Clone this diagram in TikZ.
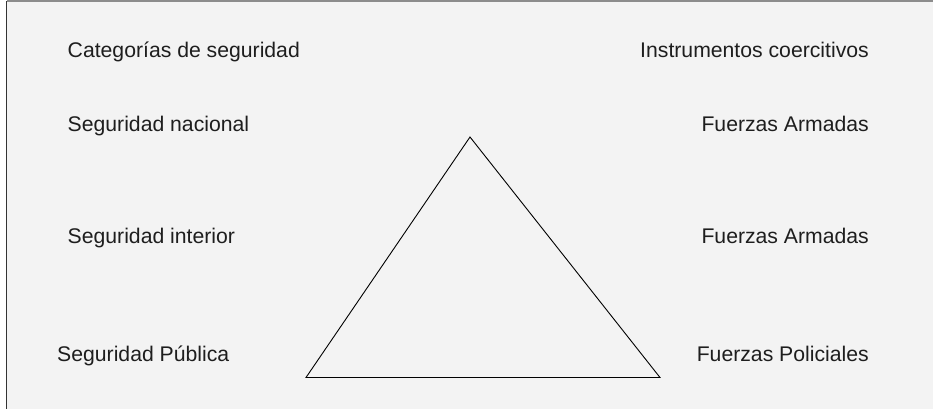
\documentclass[tikz,border=0pt]{standalone}
\usepackage{fontspec}
\setmainfont{Liberation Sans}
\usetikzlibrary{positioning, calc}
\definecolor{bgpanel}{HTML}{F3F3F3}
\definecolor{txtdark}{HTML}{1E1E1E}

\begin{document}
\begin{tikzpicture}[
    x=1pt, y=-1pt,
    label/.style    = {inner sep=0pt, text=txtdark, font=\fontsize{21.2}{25}\selectfont},
    leftlbl/.style  = {label, anchor=base west},
    rightlbl/.style = {label, anchor=base east},
    edge/.style     = {line width=0.9pt, black}
]

    % --- Panel ---
    \useasboundingbox (0,0) rectangle (933,409);
    \fill [bgpanel] (7,1.5) rectangle (933,409);
    \draw [gray!90, line width=1.4pt] (7,1.2) -- (933,1.2);
    \draw [black!80, line width=1.2pt] (6.8,1.2) -- (6.8,409);

    % --- Kolom Kiri (Kategori) ---
    \node (cat)   [leftlbl] at (67.5,57.5)  {Categorías de seguridad};
    \node (nac)   [leftlbl] at (67.5,131.5) {Seguridad nacional};
    \node (inter) [leftlbl] at (67.5,243.5) {Seguridad interior};
    \node (pub)   [leftlbl] at (57,361.5)   {Seguridad Pública};

    % --- Kolom Kanan (Instrumen) ---
    \node (ins)   [rightlbl] at (869,57.5)  {Instrumentos coercitivos};
    \node (fa1)   [rightlbl] at (869,131.5) {Fuerzas Armadas};
    \node (fa2)   [rightlbl] at (869,243.5) {Fuerzas Armadas};
    \node (fpol)  [rightlbl] at (869,361)   {Fuerzas Policiales};

    % --- Segitiga ---
    \coordinate (apex) at (470,137);
    \coordinate (bl)   at (306,377.5);
    \coordinate (br)   at (660,377.5);
    \draw [edge] (apex) -- (bl) -- (br) -- cycle;

\end{tikzpicture}
\end{document}
